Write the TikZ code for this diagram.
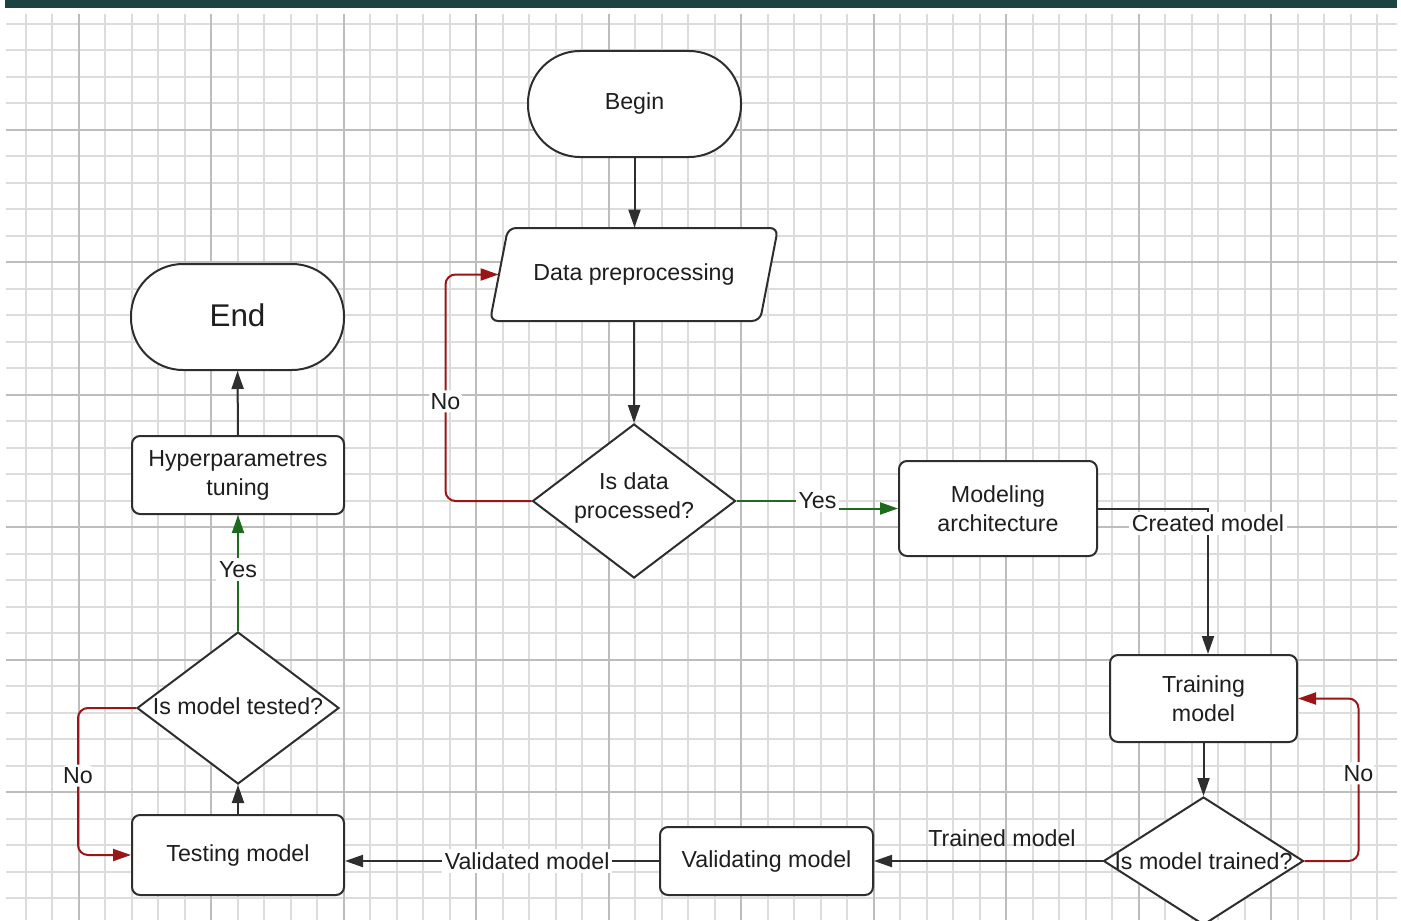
\documentclass[tikz,border=0pt]{standalone}
\usepackage{fontspec}
\setmainfont{Liberation Sans}
\usetikzlibrary{shapes.geometric,arrows.meta,calc}
\definecolor{topbar}{HTML}{1B4342}
\definecolor{lred}{HTML}{9A1515}
\definecolor{lgreen}{HTML}{1E6B1E}
\definecolor{ink}{HTML}{2E2E2E}
\definecolor{txt}{HTML}{1E1E1E}
\definecolor{gminor}{HTML}{DCDCDC}
\definecolor{gmajor}{HTML}{BDBDBD}
\newcommand\diafont{\fontsize{11.6}{14.4}\selectfont}
\begin{document}
\begin{tikzpicture}[x=0.5pt,y=-0.5pt,
  box/.style={draw=ink, line width=1pt, fill=white, rounded corners=4pt, align=center,
    font=\diafont, text=txt, inner sep=2pt},
  term/.style={box, rounded corners=26pt},
  dec/.style={diamond, draw=ink, line width=1pt, fill=white, inner sep=0pt},
  arr/.style={draw=ink, line width=1pt, -{Triangle[length=9pt,width=6pt]}},
  noarr/.style={arr, draw=lred, rounded corners=5pt},
  yesarr/.style={arr, draw=lgreen},
  elab/.style={fill=white, inner sep=1.5pt, font=\diafont, text=txt},
  minorgrid/.style={draw=gminor, line width=0.7pt},
  majorgrid/.style={draw=gmajor, line width=0.9pt}]
\useasboundingbox (0,0) rectangle (1401,920);
\fill[white] (0,0) rectangle (1401,920);
\fill[topbar] (5,0) rectangle (1397,8);
% grid
\foreach \i in {-2,...,49} \draw[minorgrid] ({int(79+26.5*\i)},14) -- ({int(79+26.5*\i)},920);
\foreach \j in {-4,...,29} \draw[minorgrid] (6,{int(130+26.5*\j)}) -- (1397,{int(130+26.5*\j)});
\foreach \i in {0,5,...,45} \draw[majorgrid] ({int(79+26.5*\i)},14) -- ({int(79+26.5*\i)},920);
\foreach \j in {0,5,...,25} \draw[majorgrid] (6,{int(130+26.5*\j)}) -- (1397,{int(130+26.5*\j)});

% nodes
\node[term, minimum width=106.5pt, minimum height=53pt] (begin) at (634.5,104) {Begin};
\path[draw=ink, line width=1pt, fill=white, rounded corners=4pt]
  (508,228) -- (778,228) -- (760,321) -- (490,321) -- cycle;
\node[font=\diafont, text=txt, minimum width=135pt, minimum height=46.5pt, inner sep=0pt]
  (dp) at (634,274.5) {\raisebox{2pt}{Data preprocessing}};
\node[dec, minimum width=101.5pt, minimum height=77pt,
  label={[font=\diafont, text=txt, align=center, yshift=1.5pt]center:Is data\\processed?}] (q1) at (634,501) {};
\node[box, minimum width=99pt, minimum height=47.5pt] (ma) at (998,508.5) {Modeling\\architecture};
\node[box, minimum width=93.5pt, minimum height=43.5pt] (tm) at (1203.5,698.5) {Training\\model};
\node[dec, minimum width=100pt, minimum height=64pt,
  label={[font=\diafont, text=txt]center:Is model trained?}] (q2) at (1203.5,861) {};
\node[box, minimum width=106.5pt, minimum height=34pt] (vm) at (766.5,861) {Validating model};
\node[box, minimum width=106pt, minimum height=40pt] (tsm) at (238,855) {\raisebox{1.5pt}{Testing model}};
\node[dec, minimum width=101pt, minimum height=76pt,
  label={[font=\diafont, text=txt, yshift=1pt]center:Is model tested?}] (q3) at (238,708) {};
\node[box, minimum width=106pt, minimum height=39pt] (hp) at (238,475) {\raisebox{-1.5pt}{\begin{tabular}{@{}c@{}}Hyperparametres\\tuning\end{tabular}}};
\node[term, minimum width=106.5pt, minimum height=53pt, font=\fontsize{15.7}{18}\selectfont] (end) at (237.5,317) {\raisebox{2pt}{End}};

% connectors
\draw[arr] (begin.south) -- (begin.south |- dp.north);
\draw[arr] (dp.south) -- (q1.north);
\draw[noarr] (q1.west) -- ++(-86,0) |- node[elab,pos=0.22]{No} (dp.west);
\draw[yesarr] (q1.east) -- ($(q1.east)+(81,0)$) node[elab]{Yes} |- (ma.west);
\draw[arr] (ma.east) -| node[elab,pos=0.55]{Created model} ($(tm.north)+(4.5,0)$);
\draw[arr] (tm.south) -- (q2.north);
\draw[noarr] (q2.east) -- ++(54,0) |- node[elab,pos=0.27]{No} (tm.east);
\draw[arr] (q2.west) -- node[elab, fill=none, anchor=south, pos=0.44, yshift=5pt]{Trained model} (vm.east);
\draw[arr] (vm.west) -- node[elab,pos=0.42]{Validated model} (vm.west -| tsm.east);
\draw[arr] (tsm.north) -- (q3.south);
\draw[noarr] (q3.west) -- ++(-58,0) |- node[elab,pos=0.23]{No} (tsm.west);
\draw[yesarr] (q3.north) -- node[elab,pos=0.53]{Yes} (hp.south);
\draw[arr] (hp.north) -- (end.south);
\end{tikzpicture}
\end{document}
